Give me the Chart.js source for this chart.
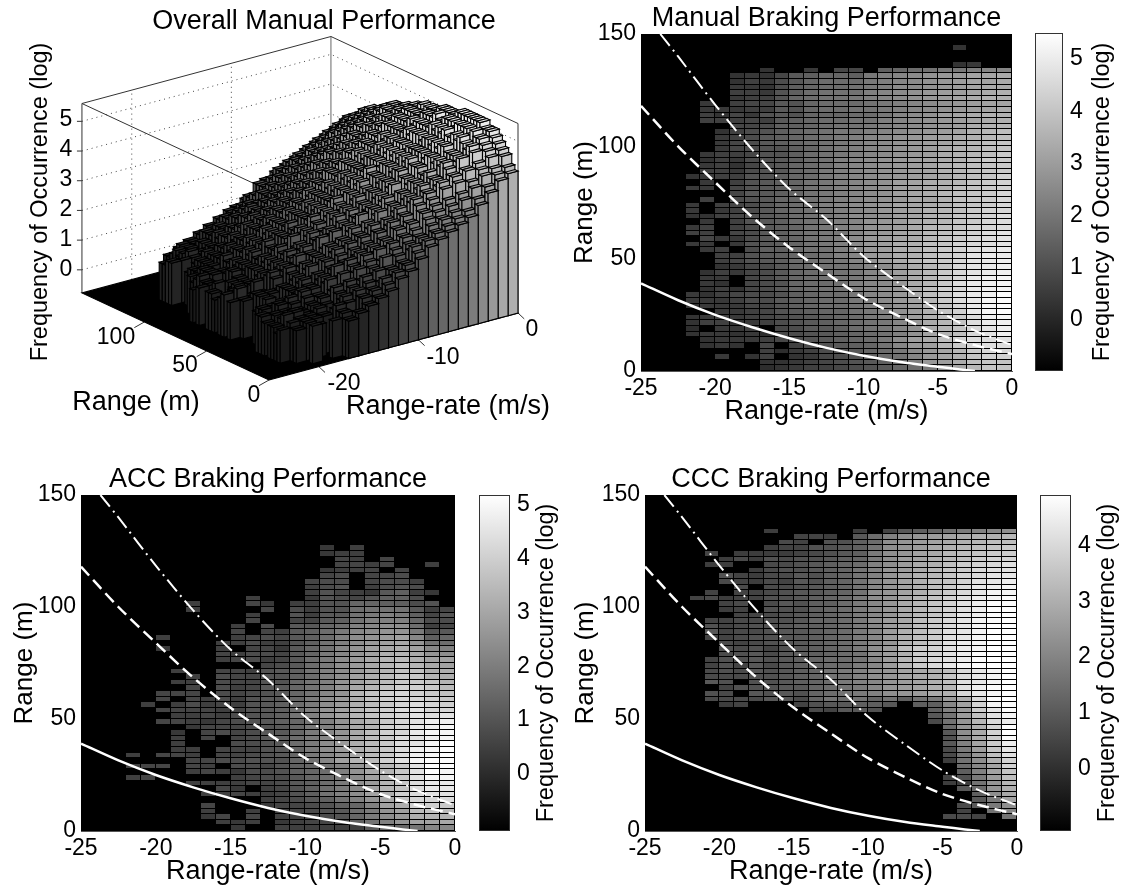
<!DOCTYPE html>
<html>
<head>
<meta charset="utf-8">
<title>Braking Performance</title>
<script src="https://cdn.jsdelivr.net/npm/chart.js@4"></script>
<style>
    html, body { margin: 0; padding: 0; background: #fff; width: 1123px; height: 888px; overflow: hidden; }
    canvas { position: absolute; }
</style>
</head>
<body>
<canvas id="overall" width="648" height="440" style="left:0;top:0"></canvas>
<canvas id="manual" style="left:569px;top:0"></canvas>
<canvas id="manualBar" style="left:1035px;top:18px"></canvas>
<canvas id="acc" style="left:9px;top:461px"></canvas>
<canvas id="accBar" style="left:479px;top:480px"></canvas>
<canvas id="ccc" style="left:570px;top:461px"></canvas>
<canvas id="cccBar" style="left:1040px;top:480px"></canvas>
<script>
// Cell values: one row per 2.5 m of range from 150 m down to 0, one character
// per 1 m/s of range-rate from -25 to 0. Base 36, each step is 0.16 of log
// frequency, "." means nothing recorded.
const logStep = 0.16;

const overallRows = [
    ".........................", ".........................", ".....................2...",
    ".........................", ".........................", ".....................23..",
    "........2..4.89.cdefghijk", "......23456788accefghijkl", "......24456789acdefghijkl",
    "......33466889bcdeggijklm", "......4446789abcefghijkmm", "......3456789acdefgijklmn",
    "....3.435679aacdeghijlmno", "....33344779abcdfghiklmno", "....42535689bbcefgijkmnop",
    "....4444578aacdefhijlmnop", "......35578abcdeghjklnopp", ".....244679abcdfgijkmnopq",
    ".....345689bbdefhiklmopqq", ".....34567aacdeghjklnopqr", ".....335789bcdfghjlmnpqrr",
    "....344568abcefgijlmopqrs", "....243678abdefhiklnopqss", "....342579acdeghjkmnoqrss",
    "....444578abdeghjkmnoqrss", "...2344679bcdfgijlmopqsst", "....3.4588acefhiklnoprstt",
    "...33.5679bcdfgiklnoqrstt", "......5689acefhikmnpqrstu", "....4.457abceghjkmopqstuu",
    "...3.44679bdefhikmnpqstuu", "...3.33689bceghjlmoprstuv", "...2244679bcefhikmnpqstuu",
    "....3.458aadeghjlmoqrstuv", "...34.4679ccffhjkmoprsuuv", "...44.5589adegiilmoqqstvv",
    "....53367abcefhjknoprtuvv", "...33.3789addggjlmnqrsuvw", "....34.678bcdfhikmoprtuvw",
    ".....4448aaceggjjmoqqtuww", ".....44578addfhikloprtuvw", ".....22569abeegikmnqrsvvw",
    "....243578accfghjmoprtuww", "....33.5699cdehikloqrtvwx", "....32.577abdffijmnprsuwx",
    "....242568acceghkknpqtvvx", "...32456679bdefijlmprsuwx", "...33346689aceggjlnortuwx",
    "...2333557aabdfhiknoqtvwx", ".....334588bccfgjlmprsuwx", "...23434569aadehiknoqsvvx",
    "...244234779ccegilmorsuww", "...1.334.68abddghkmnqrtvw", "...233231578abefhjlopsuvw",
    "....233346699cdfgjknpqtuv", "....232.5578aacefijloqrtu", "........43678abdfhikmoqst",
    ".....3.34.6799beegijlnpqs", "........34568abdfghijlnpq", "........345679acefghikmop"
];

const manualRows = [
    ".........................", ".........................", ".....................2...",
    ".........................", ".........................", ".....................23..",
    "........2..3.55.9abcddeff", "......232589aa9defghiikkl", "......24368abbbdefghijkkl",
    "......33269abbcdegghijkll", "......44379bcccefghijjklm", "......3447abccdefghijklmm",
    "....3.45587abbbcdefghijkk", "....3334487abbccdefghijkl", "....4253787aaabbdfghjklmm",
    "....4445489abbccefghijklm", "......55699abccdefghijlmn", ".....24679abcddefghijkmno",
    ".....34689abcdefghijklmno", ".....35689abcdefghijklnop", ".....356779acdefghijlmnop",
    "....3445779bcdefghijlmnoq", "....2436789bcefghijklmoqq", "....342578abcefghijkmnopq",
    "....443678abdefghijkmnopq", "...2344779abdefghijklnopr", "....3.4789acdefghjklmnpqr",
    "...33.5789acdefghjklmopqr", "......5889acdefghjklnopqs", "....4.678aacdefghikkmopqs",
    "...3.4568abdefghikklmopqs", "...3.3468abcdefgijkmnoqrs", "...2245789bcdegghjkmnpqrt",
    "....3.4789bcdefhijlmnpqst", "...34.4689acdefhijlnoprst", "...44.5689bcddfhiklnoqrtu",
    "....533689acdegijklnpqstu", "...33.3789acdegijlmoprstu", "....34.699bccegijlmoqrtuv",
    ".....44789abcefijlmoqruvv", ".....45789bccdfhjlnpqsuvw", ".....23568abccdfgjlnpsuvw",
    "....243568abccdfgjlnqsuvw", "....33.568abccdfgilnqsvwx", "....32.567abbcefgilnqtvwx",
    "....242568abccefhilorsvwx", "...32456679abbdfgiloqtvwy", "...33346689abbdegiknqtvxy",
    "...23335579abbcefhjnpsvxy", ".....3345789aacdfhjmprvxy", "...2343456789abdegjmoqtwx",
    "...2442346789abcdfilnptvw", "...1.334.56889bcdfhlnpsuw", "...23323156789abcehkmosuw",
    "....2333456789abdgjlorttu", "....232.5.46789acfijnqstt", "........4134678abdgiknqss",
    ".....3.24.235679bcfikmprr", "........223456789beijlopp", "........123445678abdhknpp"
];

const accRows = [
    ".........................", ".........................", ".........................",
    ".........................", ".........................", ".........................",
    ".........................", ".........................", ".........................",
    "................2.3......", "................233......", ".................43.4....",
    ".................4434..3.", "................2334.4...", "................45.445...",
    "...............455.4553..", "...............356.3565..", "...............364327832.",
    "...........3...26546885..", ".......3...42.3366998856.", ".......3....4.5366abbb734",
    "...........3..6377bcdc846", "...........4..4478bddd955", "..........3.5.779adeffa34",
    "..........4.4378acefggc67", ".....3....345478adfghie89", ".........3353368bdfhijgba",
    ".....2...3.44279begijkied", ".........4355479cegikljgf", ".........345347acfhjlmkii",
    "............457acfhjlnlji", "......3..443678bdfhjlnnkk", ".......3.544668adfikmoolk",
    "......33.544669bdgikmoonl", ".......4.534779bdgjlnppom", ".....444.545679beglnpqpon",
    ".....4.43536779cfhknpqqpo", "....3.35343678acfhkmoqrqp", ".....444434678adgilnprsqq",
    "......33435678bdgilnpqsrs", ".....4432456789bdgjloqsuu", ".......24445679cdgjlpqtuv",
    "......2.4545779cegjmpqtvv", "......3.4.4578acegjmorsuv", "......3...5567acfhkmorsvw",
    "......33.444679cfhkmoruvw", "...3.443.445679cegjmoruvw", ".......44556669beilmpsvww",
    "...344.43.554689bdgjlosww", ".......343255689adgjloswv", "...34.....345579acfilosvv",
    ".......333344578acfhlortt", ".........42.3468aceilnrtt", "........33433468bdfikprss",
    "............34578bdgjnqqr", "........4...2445689dikppo", "........3..3.34567acgimnm",
    "........24.4.334569cfhkll", ".........323.234458bdgiij", "..........2..333333799bee"
];

const cccRows = [
    ".........................", ".........................", ".........................",
    ".........................", ".........................", ".........................",
    "........2.....2.3678abcde", "..........332.69cefghijjk", ".........43.5579efghijkll",
    "........2335567aefgijklmn", "....3.222234567befhiklmnn", ".....2425455678beghjklnoo",
    "....22..4456789cegijlnopq", ".......2455678acfgikmnpqq", ".....532446578acfhjkmoprr",
    ".....432436578adfhjlmoqrs", "......4.445678adfhjlnprst", "....3.33456678aefhjlnprtt",
    "...34233556789befikmoqstu", ".....34.465779bdfikmoqsuu", ".....23.555789bdfikmoqsuv",
    "......33456789bdfikmorsuv", "....3344556889begilnprtuv", "....5345567789bdgilnprtvv",
    "....6344566789bdgjlnqrtvv", "....3345566789bdgjlnqrtvw", ".....434566789bdfjlnqstvw",
    ".....545356789beglnoqstvw", ".....456467789aegjnoqsuvw", "....3556567899adgknpqsuvx",
    "....3536467899bdgknprtuwx", "....45465678abcefhijlprtv", "....44455678aacefhijmprtv",
    "....65.556789bcdfghjlqrtv", ".....35556689abdfghjkqsuv", "....54.656589abcefgijprtu",
    "....44446648a9a8a7abgjpuw", ".....23...3566776.77dhotu", "...........43665...7cgnru",
    "...................6aglqt", "...................4afkps", "....................9fjov",
    "....................6eiov", "....................5dinu", "....................6chns",
    "....................4bgmr", "....................4aflq", "....................2aejo",
    ".....................9dho", ".....................7chm", "....................35bgl",
    "....................22afk", ".....................69fj", "......................7ei",
    "......................6bh", ".....................46be", ".....................3.ad",
    "....................443.a", ".........................", "........................."
];

// Stopping-distance curves, same three in every 2D panel
const solidRate = [-25, -22.5, -20, -17.5, -15, -12.5, -10, -7.5, -5, -3.5, -2.5];
const solidRange = [39, 31.5, 25, 19.5, 14.6, 10.3, 6.8, 4, 1.9, 0.7, 0];
const dashedRate = [-25, -22.5, -20, -17.5, -15, -12.5, -10, -7.5, -5, -2.5, 0];
const dashedRange = [118, 100, 84, 68.5, 55, 43.5, 32.5, 24, 16.5, 11.5, 7.5];
const dashDotRate = [-23.7, -22.5, -20, -17.5, -15, -12.5, -10, -7.5, -5, -2.5, 0];
const dashDotRange = [150, 140, 118.5, 98.5, 81, 67.5, 51, 38.5, 27, 18, 11.5];

const fontFamily = "'Liberation Sans', Arial, sans-serif";
const freqLabel = 'Frequency of Occurrence (log)';

function toPoints(xs, ys) {
    return xs.map((x, i) => ({ x: x, y: ys[i] }));
}

function grayFor(value, min, max, power) {
    const t = Math.max(0, Math.min(1, (value - min) / (max - min)));
    const g = Math.round(Math.pow(t, power || 1) * 255);
    return 'rgb(' + g + ',' + g + ',' + g + ')';
}

function cellValue(rows, i, c) {
    const level = parseInt(rows[i].charAt(c), 36);
    return isNaN(level) ? null : level * logStep;
}

// 2D panel: black plot, cells in the scale's coordinates, three curves on top
function heatPanel(id, title, rows, cbMin, cbMax, box) {
    const canvas = document.getElementById(id);
    canvas.width = box.width;
    canvas.height = box.height;
    new Chart(canvas, {
        type: 'scatter',
        data: {
            datasets: [
                { data: toPoints(solidRate, solidRange), showLine: true, tension: 0.3, pointRadius: 0, borderColor: '#fff', borderWidth: 2.5 },
                { data: toPoints(dashedRate, dashedRange), showLine: true, tension: 0.3, pointRadius: 0, borderColor: '#fff', borderWidth: 2.5, borderDash: [12, 6] },
                { data: toPoints(dashDotRate, dashDotRange), showLine: true, tension: 0.3, pointRadius: 0, borderColor: '#fff', borderWidth: 2, borderDash: [15, 5, 2, 5] }
            ]
        },
        options: {
            responsive: false,
            animation: false,
            layout: { padding: { right: box.right } },
            plugins: {
                legend: { display: false },
                tooltip: { enabled: false },
                title: {
                    display: true,
                    text: title,
                    fullSize: false,
                    color: '#000',
                    padding: { top: 3, bottom: 0 },
                    font: { family: fontFamily, size: 27, weight: 'normal', lineHeight: (box.titleHeight - 3) / 27 }
                }
            },
            scales: {
                x: {
                    type: 'linear', min: -25, max: 0,
                    afterFit: function(s) { s.height = box.xHeight; },
                    grid: { display: false, drawTicks: false },
                    border: { color: '#555' },
                    ticks: { stepSize: 5, color: '#000', padding: 4, maxRotation: 0, font: { family: fontFamily, size: 23 } },
                    title: { display: true, text: 'Range-rate (m/s)', color: '#000', padding: 0, font: { family: fontFamily, size: 27 } }
                },
                y: {
                    type: 'linear', min: 0, max: 150,
                    afterFit: function(s) { s.width = box.yWidth; },
                    grid: { display: false, drawTicks: false },
                    border: { color: '#555' },
                    ticks: { stepSize: 50, color: '#000', padding: 5, font: { family: fontFamily, size: 23 } },
                    title: { display: true, text: 'Range (m)', color: '#000', padding: 0, font: { family: fontFamily, size: 26 } }
                }
            }
        },
        plugins: [{
            id: 'cells',
            beforeDatasetsDraw: function(chart) {
                const ctx = chart.ctx, a = chart.chartArea, xs = chart.scales.x, ys = chart.scales.y;
                ctx.save();
                ctx.fillStyle = '#000';
                ctx.fillRect(a.left, a.top, a.right - a.left, a.bottom - a.top);
                rows.forEach(function(row, i) {
                    for (let c = 0; c < 25; c++) {
                        const v = cellValue(rows, i, c);
                        if (v === null) continue;
                        const x0 = Math.round(xs.getPixelForValue(-25 + c));
                        const x1 = Math.round(xs.getPixelForValue(-24 + c));
                        const y0 = Math.round(ys.getPixelForValue(150 - 2.5 * i));
                        const y1 = Math.round(ys.getPixelForValue(147.5 - 2.5 * i));
                        ctx.fillStyle = grayFor(v, cbMin, cbMax);
                        ctx.fillRect(x0, y0, x1 - x0 - 1, y1 - y0 - 1);
                    }
                });
                ctx.restore();
            }
        }]
    });
}

// Colour bar: its own linear axis on the right, ramp painted from the axis ends
function colorBar(id, cbMin, cbMax, box) {
    const canvas = document.getElementById(id);
    canvas.width = box.barWidth + box.axisWidth;
    canvas.height = box.height;
    new Chart(canvas, {
        type: 'scatter',
        data: { datasets: [{ data: [] }] },
        options: {
            responsive: false,
            animation: false,
            layout: { padding: { top: box.pad, bottom: box.pad } },
            plugins: { legend: { display: false }, tooltip: { enabled: false } },
            scales: {
                x: { type: 'linear', display: false, min: 0, max: 1 },
                y: {
                    type: 'linear', position: 'right', min: cbMin, max: cbMax,
                    afterBuildTicks: function(s) { s.ticks = s.ticks.filter(t => t.value >= 0); },
                    afterFit: function(s) { s.width = box.axisWidth; s.paddingTop = 0; s.paddingBottom = 0; },
                    grid: { display: false, drawTicks: false },
                    border: { display: false },
                    ticks: { stepSize: 1, includeBounds: false, color: '#000', padding: 7, font: { family: fontFamily, size: 23 } }
                }
            }
        },
        plugins: [{
            id: 'ramp',
            beforeDatasetsDraw: function(chart) {
                const ctx = chart.ctx, a = chart.chartArea, ys = chart.scales.y;
                const ramp = ctx.createLinearGradient(0, ys.getPixelForValue(cbMin), 0, ys.getPixelForValue(cbMax));
                ramp.addColorStop(0, '#000');
                ramp.addColorStop(1, '#fff');
                ctx.save();
                ctx.fillStyle = ramp;
                ctx.fillRect(a.left, a.top, a.right - a.left, a.bottom - a.top);
                ctx.strokeStyle = '#333';
                ctx.strokeRect(a.left + 0.5, a.top + 0.5, a.right - a.left - 1, a.bottom - a.top - 1);
                ctx.translate(a.right + box.labelOffset, (a.top + a.bottom) / 2);
                ctx.rotate(-Math.PI / 2);
                ctx.fillStyle = '#000';
                ctx.font = '23.5px ' + fontFamily;
                ctx.textAlign = 'center';
                ctx.textBaseline = 'middle';
                ctx.fillText(freqLabel, 0, 0);
                ctx.restore();
            }
        }]
    });
}

// 3D view: hidden linear scales in page units, bars projected into them
const floorZ = -0.78, topZ = 5.6;
const zTicks = [0, 1, 2, 3, 4, 5];
const rateGrid = [-20, -10];

function project(rate, range, z) {
    return {
        x: 269 + (rate + 25) * 9.96 - range * 1.247,
        y: 380 - (rate + 25) * 2.68 - range * 0.58 - (z - floorZ) * 29.7
    };
}

function overallChart() {
    const line = function(pts, color, dash) {
        return { data: pts, showLine: true, pointRadius: 0, tension: 0, borderColor: color, borderWidth: 1, borderDash: dash || [], clip: false };
    };
    const datasets = [];
    zTicks.forEach(function(z) {
        datasets.push(line([project(-25, 150, z), project(0, 150, z), project(0, 0, z)], '#444', [1, 4]));
        datasets.push(line([project(-25, 150, z), { x: project(-25, 150, z).x - 5, y: project(-25, 150, z).y }], '#333'));
    });
    rateGrid.forEach(function(r) {
        datasets.push(line([project(r, 150, floorZ), project(r, 150, topZ)], '#444', [1, 4]));
    });
    datasets.push(line([project(-25, 150, topZ), project(0, 150, topZ), project(0, 0, topZ)], '#333'));
    datasets.push(line([project(-25, 150, floorZ), project(-25, 150, topZ), project(-25, 0, topZ)], '#333'));
    datasets.push(line([project(0, 0, floorZ), project(0, 0, topZ)], '#333'));
    datasets.push(line([project(0, 150, floorZ), project(0, 150, topZ)], '#666'));
    [0, -10, -20].forEach(function(r) {
        datasets.push(line([project(r, 0, floorZ), project(r, -5, floorZ - 0.1)], '#333'));
    });
    [0, 50, 100].forEach(function(m) {
        datasets.push(line([project(-25, m, floorZ), project(-26, m, floorZ - 0.1)], '#333'));
    });

    new Chart(document.getElementById('overall'), {
        type: 'scatter',
        data: { datasets: datasets },
        options: {
            responsive: false,
            animation: false,
            plugins: {
                legend: { display: false },
                tooltip: { enabled: false },
                title: {
                    display: true,
                    text: 'Overall Manual Performance',
                    color: '#000',
                    padding: { top: 6, bottom: 0 },
                    font: { family: fontFamily, size: 27, weight: 'normal', lineHeight: 32 / 27 }
                }
            },
            scales: {
                x: { type: 'linear', display: false, min: 0, max: 648 },
                y: { type: 'linear', display: false, min: 38, max: 440, reverse: true }
            }
        },
        plugins: [{
            id: 'bars',
            afterDatasetsDraw: function(chart) {
                const ctx = chart.ctx, xs = chart.scales.x, ys = chart.scales.y;
                const poly = function(pts, fill) {
                    ctx.beginPath();
                    pts.forEach(function(p, k) {
                        const px = xs.getPixelForValue(p.x), py = ys.getPixelForValue(p.y);
                        if (k === 0) ctx.moveTo(px, py); else ctx.lineTo(px, py);
                    });
                    ctx.closePath();
                    ctx.fillStyle = fill;
                    ctx.fill();
                    ctx.stroke();
                };
                ctx.save();
                ctx.strokeStyle = '#000';
                ctx.lineWidth = 1.1;
                poly([project(-25, 0, floorZ), project(0, 0, floorZ), project(0, 150, floorZ), project(-25, 150, floorZ)], '#000');
                overallRows.forEach(function(row, i) {
                    const far = 150 - 2.5 * i, near = far - 2.5;
                    for (let c = 24; c >= 0; c--) {
                        const v = cellValue(overallRows, i, c);
                        if (v === null) continue;
                        const lo = -25 + c, hi = lo + 1, fill = grayFor(v, floorZ, topZ, 1.3);
                        poly([project(lo, far, floorZ), project(lo, near, floorZ), project(lo, near, v), project(lo, far, v)], fill);
                        poly([project(lo, near, floorZ), project(hi, near, floorZ), project(hi, near, v), project(lo, near, v)], fill);
                        poly([project(lo, near, v), project(hi, near, v), project(hi, far, v), project(lo, far, v)], fill);
                    }
                });
                ctx.fillStyle = '#000';
                ctx.textAlign = 'center';
                ctx.textBaseline = 'middle';
                ctx.font = '23px ' + fontFamily;
                const put = function(text, x, y) {
                    ctx.fillText(text, xs.getPixelForValue(x), ys.getPixelForValue(y));
                };
                zTicks.forEach(function(z) { put(String(z), 66, 270 - z * 30); });
                put('100', 116, 338); put('50', 185, 366); put('0', 254, 396);
                put('0', 532, 330); put('-10', 443, 358); put('-20', 344, 384);
                ctx.font = '27px ' + fontFamily;
                put('Range (m)', 136, 403);
                put('Range-rate (m/s)', 448, 407);
                ctx.translate(xs.getPixelForValue(41), ys.getPixelForValue(202));
                ctx.rotate(-Math.PI / 2);
                ctx.font = '23.5px ' + fontFamily;
                ctx.fillText(freqLabel, 0, 0);
                ctx.restore();
            }
        }]
    });
}

document.addEventListener('DOMContentLoaded', function() {
    overallChart();
    heatPanel('manual', 'Manual Braking Performance', manualRows, -0.98, 5.5,
        { width: 463, height: 428, right: 20, titleHeight: 34, xHeight: 57, yWidth: 72 });
    colorBar('manualBar', -0.98, 5.5, { barWidth: 28, axisWidth: 60, height: 368, pad: 15, labelOffset: 40 });
    heatPanel('acc', 'ACC Braking Performance', accRows, -1.06, 5.18,
        { width: 466, height: 427, right: 20, titleHeight: 34, xHeight: 57, yWidth: 72 });
    colorBar('accBar', -1.06, 5.18, { barWidth: 31, axisWidth: 60, height: 366, pad: 15, labelOffset: 37 });
    heatPanel('ccc', 'CCC Braking Performance', cccRows, -1.11, 4.9,
        { width: 467, height: 427, right: 20, titleHeight: 34, xHeight: 57, yWidth: 75 });
    colorBar('cccBar', -1.11, 4.9, { barWidth: 31, axisWidth: 52, height: 366, pad: 15, labelOffset: 37 });
});
</script>
</body>
</html>
